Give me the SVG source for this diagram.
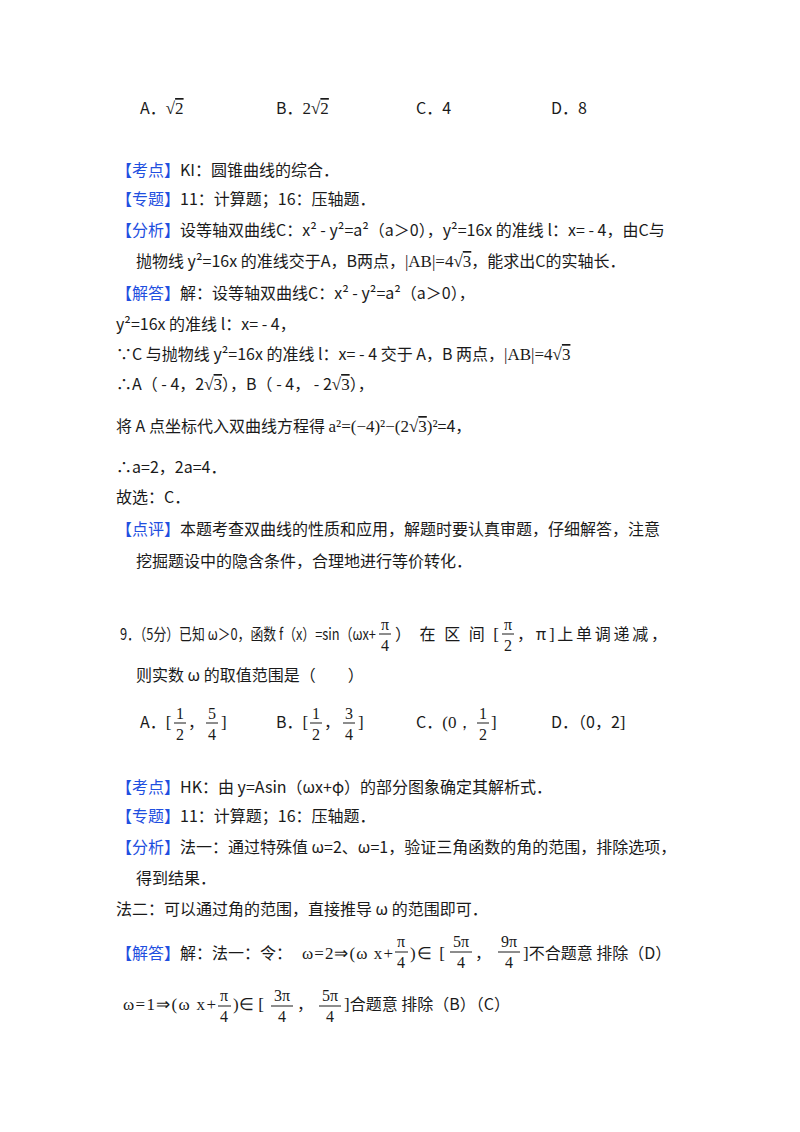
<svg xmlns="http://www.w3.org/2000/svg" width="800" height="1132" viewBox="0 0 800 1132">
<style>
text{font-family:"Noto Sans CJK SC","Noto Sans",sans-serif;font-size:16px;fill:#1a1a1a}
.b{fill:#1f4fe0}
.m{font-family:"Liberation Serif",serif;font-size:17px}
.f{font-family:"Liberation Serif",serif;font-size:16px;text-anchor:middle}
.o{text-decoration:overline}
line{stroke:#1a1a1a;stroke-width:1}
</style>
<rect width="800" height="1132" fill="#fff"/>
<g id="q8opts">
<text x="140" y="114">A．<tspan class="m">√<tspan class="o">2</tspan></tspan></text>
<text x="276" y="114">B．<tspan class="m">2√<tspan class="o">2</tspan></tspan></text>
<text x="416" y="114">C．4</text>
<text x="551" y="114">D．8</text>
</g>
<g id="sol8">
<text x="116" y="176"><tspan class="b">【考点】</tspan>KI：圆锥曲线的综合．</text>
<text x="116" y="205"><tspan class="b">【专题】</tspan>11：计算题；16：压轴题．</text>
<text x="116" y="236"><tspan class="b">【分析】</tspan>设等轴双曲线C：x² - y²=a²（a＞0），y²=16x 的准线 l：x= - 4，由C与</text>
<text x="136" y="267">抛物线 y²=16x 的准线交于A，B两点，<tspan class="m">|AB|=4√<tspan class="o">3</tspan></tspan>，能求出C的实轴长．</text>
<text x="116" y="299"><tspan class="b">【解答】</tspan>解：设等轴双曲线C：x² - y²=a²（a＞0），</text>
<text x="116" y="330">y²=16x 的准线 l：x= - 4，</text>
<text x="116" y="360">∵C 与抛物线 y²=16x 的准线 l：x= - 4 交于 A，B 两点，<tspan class="m">|AB|=4√<tspan class="o">3</tspan></tspan></text>
<text x="116" y="390">∴A（ - 4，2<tspan class="m">√<tspan class="o">3</tspan></tspan>），B（ - 4， - 2<tspan class="m">√<tspan class="o">3</tspan></tspan>），</text>
<text x="116" y="432">将 A 点坐标代入双曲线方程得 <tspan class="m">a²=(−4)²−(2√<tspan class="o">3</tspan>)²</tspan>=4，</text>
<text x="116" y="473">∴a=2，2a=4．</text>
<text x="116" y="503">故选：C．</text>
<text x="116" y="535"><tspan class="b">【点评】</tspan>本题考查双曲线的性质和应用，解题时要认真审题，仔细解答，注意</text>
<text x="136" y="567">挖掘题设中的隐含条件，合理地进行等价转化．</text>
</g>
<g id="q9">
<text x="120" y="640" textLength="256" lengthAdjust="spacingAndGlyphs">9．（5分）已知 ω＞0，函数 f（x）=sin（ωx+</text>
<text class="f" x="385" y="630">π</text><line x1="379" y1="634" x2="391" y2="634"/><text class="f" x="385" y="651">4</text>
<text x="395" y="640" textLength="104" lengthAdjust="spacing">）在区间<tspan class="m">[</tspan></text>
<text class="f" x="508" y="630">π</text><line x1="502" y1="634" x2="514" y2="634"/><text class="f" x="508" y="651">2</text>
<text x="517" y="640" textLength="150" lengthAdjust="spacing">，π<tspan class="m">]</tspan>上单调递减，</text>
<text x="136" y="681">则实数 ω 的取值范围是（　　）</text>
</g>
<g id="q9opts">
<text x="140" y="728">A．<tspan class="m">[</tspan></text>
<text class="f" x="180" y="719">1</text><line x1="174" y1="723" x2="186" y2="723"/><text class="f" x="180" y="740">2</text>
<text x="188" y="728">，</text>
<text class="f" x="212" y="719">5</text><line x1="206" y1="723" x2="218" y2="723"/><text class="f" x="212" y="740">4</text>
<text class="m" x="221" y="728">]</text>
<text x="276" y="728">B．<tspan class="m">[</tspan></text>
<text class="f" x="316" y="719">1</text><line x1="310" y1="723" x2="322" y2="723"/><text class="f" x="316" y="740">2</text>
<text x="324" y="728">，</text>
<text class="f" x="349" y="719">3</text><line x1="343" y1="723" x2="355" y2="723"/><text class="f" x="349" y="740">4</text>
<text class="m" x="358" y="728">]</text>
<text x="416" y="728">C．<tspan class="m">(0，</tspan></text>
<text class="f" x="483" y="719">1</text><line x1="477" y1="723" x2="489" y2="723"/><text class="f" x="483" y="740">2</text>
<text class="m" x="491" y="728">]</text>
<text x="551" y="728">D．（0，2<tspan class="m">]</tspan></text>
</g>
<g id="sol9">
<text x="116" y="793"><tspan class="b">【考点】</tspan>HK：由 y=Asin（ωx+φ）的部分图象确定其解析式．</text>
<text x="116" y="822"><tspan class="b">【专题】</tspan>11：计算题；16：压轴题．</text>
<text x="116" y="853"><tspan class="b">【分析】</tspan>法一：通过特殊值 ω=2、ω=1，验证三角函数的角的范围，排除选项，</text>
<text x="136" y="884">得到结果．</text>
<text x="116" y="915">法二：可以通过角的范围，直接推导 ω 的范围即可．</text>
<text x="116" y="959"><tspan class="b">【解答】</tspan>解：法一：令：</text>
<text class="m" x="302" y="959" textLength="91" lengthAdjust="spacing">ω=2⇒(ω x+</text>
<text class="f" x="401" y="947">π</text><line x1="395" y1="952" x2="408" y2="952"/><text class="f" x="401" y="968">4</text>
<text class="m" x="410" y="959" textLength="35" lengthAdjust="spacing">)∈ [</text>
<text class="f" x="461" y="947">5π</text><line x1="450" y1="952" x2="472" y2="952"/><text class="f" x="461" y="968">4</text>
<text x="475" y="959">，</text>
<text class="f" x="509" y="947">9π</text><line x1="498" y1="952" x2="520" y2="952"/><text class="f" x="509" y="968">4</text>
<text x="523" y="959"><tspan class="m">]</tspan>不合题意 排除（D）</text>
<text class="m" x="123" y="1010" textLength="93" lengthAdjust="spacing">ω=1⇒(ω x+</text>
<text class="f" x="224" y="1001">π</text><line x1="218" y1="1006" x2="231" y2="1006"/><text class="f" x="224" y="1022">4</text>
<text class="m" x="233" y="1010" textLength="31" lengthAdjust="spacing">)∈ [</text>
<text class="f" x="282" y="1001">3π</text><line x1="271" y1="1006" x2="293" y2="1006"/><text class="f" x="282" y="1022">4</text>
<text x="297" y="1010">，</text>
<text class="f" x="330" y="1001">5π</text><line x1="319" y1="1006" x2="341" y2="1006"/><text class="f" x="330" y="1022">4</text>
<text x="344" y="1010"><tspan class="m">]</tspan>合题意 排除（B）（C）</text>
</g>
</svg>
